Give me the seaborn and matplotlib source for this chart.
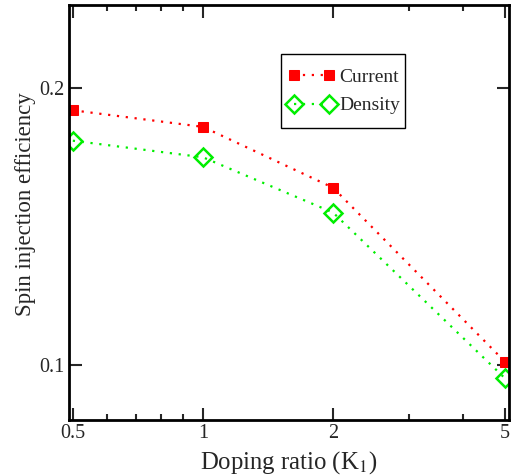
import numpy as np
import pandas as pd
import matplotlib
matplotlib.use("Agg")
import matplotlib.pyplot as plt
from matplotlib.patches import Rectangle
from matplotlib.ticker import FixedLocator, NullFormatter, NullLocator
import seaborn as sns

# data
doping_ratio = [0.5, 1, 2, 5]
current = [0.192, 0.186, 0.164, 0.101]
density = [0.181, 0.175, 0.155, 0.095]

df = pd.DataFrame({
    "ratio": doping_ratio * 2,
    "eff": current + density,
    "series": ["Current"] * 4 + ["Density"] * 4,
})

sns.set_style("ticks")
plt.rcParams["font.family"] = ["Liberation Serif", "DejaVu Serif"]
plt.rcParams["mathtext.fontset"] = "stix"

fig = plt.figure(figsize=(5.15, 4.75), dpi=100)
ax = fig.add_axes([0.134, 0.116, 0.854, 0.873])

sns.lineplot(data=df, x="ratio", y="eff", hue="series", style="series",
             palette={"Current": "#ff0000", "Density": "#00ee00"},
             markers={"Current": "s", "Density": "D"},
             dashes={"Current": (1, 3), "Density": (1, 3)},
             linewidth=1.6, markersize=8, ax=ax, legend=False)

# red filled squares, green open diamonds
lines = ax.get_lines()
lines[0].set_markerfacecolor("#ff0000")
lines[0].set_markeredgecolor("#ff0000")
lines[0].set_markersize(7.5)
lines[1].set_markerfacecolor("none")
lines[1].set_markeredgecolor("#00ee00")
lines[1].set_markeredgewidth(1.8)
lines[1].set_markersize(9)

ax.set_xscale("log")
ax.set_xlim(0.49, 5.1)
ax.set_ylim(0.08, 0.23)

ax.xaxis.set_major_locator(FixedLocator([0.5, 1, 2, 5]))
ax.set_xticklabels(["0.5", "1", "2", "5"])
ax.xaxis.set_minor_locator(FixedLocator([0.6, 0.7, 0.8, 0.9, 3, 4]))
ax.xaxis.set_minor_formatter(NullFormatter())
ax.set_yticks([0.1, 0.2])
ax.set_yticklabels(["0.1", "0.2"])
ax.yaxis.set_minor_locator(NullLocator())

ax.tick_params(which="both", direction="in", top=True, right=True,
               labelsize=14.5, width=1.5, pad=3)
ax.tick_params(which="major", length=9)
ax.tick_params(which="minor", length=4)
for s in ax.spines.values():
    s.set_linewidth(2)
    s.set_color("black")

ax.set_xlabel("Doping ratio (K$_1$)", fontsize=17.8)
ax.xaxis.set_label_coords(0.5, -0.071)
ax.set_ylabel("Spin injection efficiency", fontsize=16.5)
ax.yaxis.set_label_coords(-0.075, 0.52)

# legend without its own frame; the box is drawn separately
leg = ax.legend(handles=lines, labels=["Current", "Density"], numpoints=2,
                loc="upper left", bbox_to_anchor=(0.498, 0.848),
                borderaxespad=0, fontsize=14, frameon=False,
                handlelength=2.4, borderpad=0, labelspacing=0.56,
                handletextpad=0.25)
ax.add_patch(Rectangle((0.482, 0.704), 0.282, 0.178, transform=ax.transAxes,
                       fill=False, edgecolor="black", linewidth=1, zorder=5))

fig.savefig("out.png", dpi=100)
